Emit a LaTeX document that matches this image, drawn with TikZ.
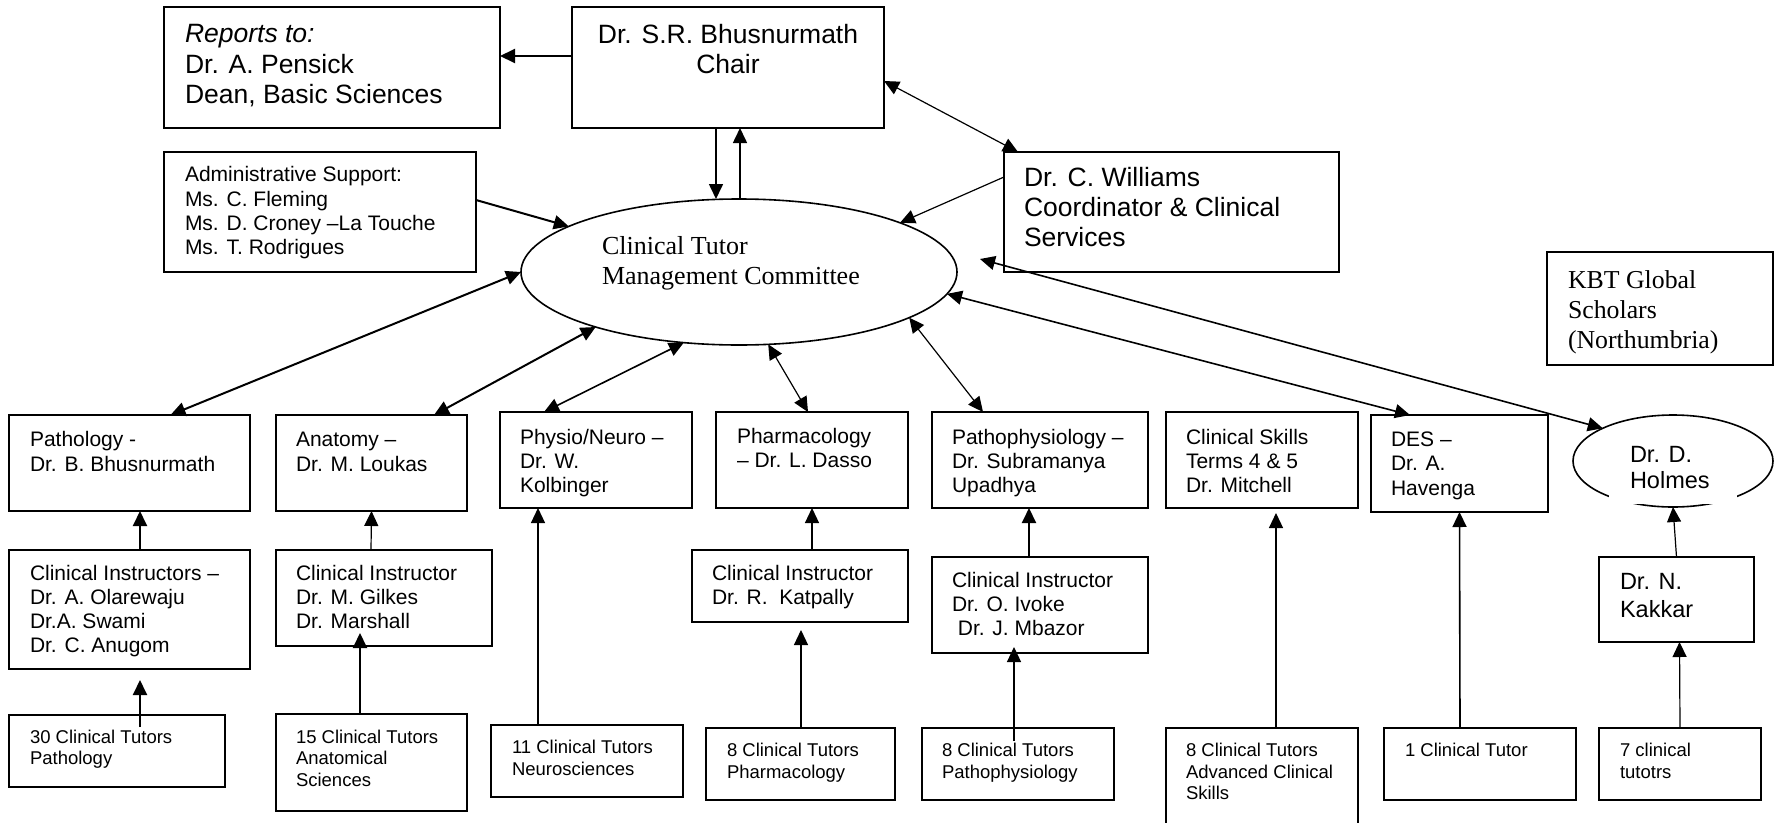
\documentclass[tikz,border=0pt]{standalone}
\usepackage{fontspec}
\setmainfont{Liberation Sans}
\newfontfamily\tnr{Liberation Serif}
\usetikzlibrary{shapes.geometric,arrows.meta}

\tikzset{
  box/.style={draw, line width=2pt, rectangle, anchor=north west, inner sep=0pt, outer sep=0pt},
  oval/.style={draw, line width=1.6pt, ellipse, inner sep=0pt, outer sep=0pt},
  corner/.style={anchor=base west, inner sep=0pt, outer sep=0pt, align=left, xshift=21pt},
  big/.style={font=\fontsize{26.5}{30.3}\selectfont},
  mid/.style={font=\fontsize{21}{24.3}\selectfont},
  sml/.style={font=\fontsize{18.5}{21.5}\selectfont},
  link/.style={line width=1.2pt, ->},
  both/.style={line width=1.2pt, <->},
  heavy/.style={line width=2pt},
}

\begin{document}
\begin{tikzpicture}[x=1pt, y=-1pt, >={Triangle[length=15pt,width=14pt]}]
\useasboundingbox (0,0) rectangle (1783,822);
\clip (0,0) rectangle (1783,822);

% top (label yshift = baseline of the last line)
\node[box, minimum width=336pt, minimum height=121pt, label={[corner, big, yshift=-96.3pt]north west:{\textit{Reports to:}\\Dr. A. Pensick\\Dean, Basic Sciences}}] (reports) at (164,7) {};
\node[box, minimum width=312pt, minimum height=121pt, label={[big, anchor=base, align=center, inner sep=0pt, yshift=-66.3pt]north:{Dr. S.R. Bhusnurmath\\Chair}}] (chair) at (572,7) {};
\node[box, minimum width=312pt, minimum height=120pt, label={[corner, mid, yshift=-102.6pt]north west:{Administrative Support:\\Ms. C. Fleming\\Ms. D. Croney –La Touche\\Ms. T. Rodrigues}}] (admin) at (164,152) {};
\node[box, minimum width=335pt, minimum height=120pt, label={[corner, big, xshift=-1pt, yshift=-94.6pt]north west:{Dr. C. Williams\\Coordinator \& Clinical\\Services}}] (williams) at (1004,152) {};
\node[oval, minimum width=436pt, minimum height=146pt, label={[corner, xshift=60pt, yshift=-12pt, font=\tnr\fontsize{26}{30}\selectfont]west:{Clinical Tutor\\Management Committee}}] (ctmc) at (739,272) {};
\node[box, minimum width=226pt, minimum height=113pt, label={[corner, yshift=-96pt, font=\tnr\fontsize{25.8}{30}\selectfont]north west:{KBT Global\\Scholars\\(Northumbria)}}] (kbt) at (1547,252) {};

% departments
\node[box, minimum width=241pt, minimum height=96pt, label={[corner, mid, yshift=-56pt]north west:{Pathology -\\Dr. B. Bhusnurmath}}] (path) at (9,415) {};
\node[box, minimum width=191pt, minimum height=96pt, label={[corner, mid, xshift=-1pt, yshift=-56pt]north west:{Anatomy –\\Dr. M. Loukas}}] (anat) at (276,415) {};
\node[box, minimum width=192pt, minimum height=96pt, label={[corner, mid, xshift=-1pt, yshift=-80.6pt]north west:{Physio/Neuro –\\Dr. W.\\Kolbinger}}] (physio) at (500,412) {};
\node[box, minimum width=192pt, minimum height=96pt, label={[corner, mid, yshift=-55.8pt]north west:{Pharmacology\\– Dr. L. Dasso}}] (pharm) at (716,412) {};
\node[box, minimum width=216pt, minimum height=96pt, label={[corner, mid, xshift=-1pt, yshift=-80.6pt]north west:{Pathophysiology –\\Dr. Subramanya\\Upadhya}}] (patho) at (932,412) {};
\node[box, minimum width=192pt, minimum height=96pt, label={[corner, mid, xshift=-1pt, yshift=-80.6pt]north west:{Clinical Skills\\Terms 4 \& 5\\Dr. Mitchell}}] (skills) at (1166,412) {};
\node[box, minimum width=177pt, minimum height=97pt, label={[corner, mid, xshift=-1pt, yshift=-80.1pt]north west:{DES –\\Dr. A.\\Havenga}}] (des) at (1371,415) {};
\node[oval, minimum width=200pt, minimum height=92pt, label={[corner, xshift=36pt, yshift=-27.5pt, font=\fontsize{23.5}{26.5}\selectfont]west:{Dr. D.\\Holmes}}] (holmes) at (1673,461) {};
\fill[white] (1609,492) rectangle (1737,504);

% instructors
\node[box, minimum width=241pt, minimum height=119pt, label={[corner, mid, yshift=-102.9pt]north west:{Clinical Instructors –\\Dr. A. Olarewaju\\Dr.A. Swami\\Dr. C. Anugom}}] (cipath) at (9,550) {};
\node[box, minimum width=216pt, minimum height=96pt, label={[corner, mid, xshift=-1pt, yshift=-78.6pt]north west:{Clinical Instructor\\Dr. M. Gilkes\\Dr. Marshall}}] (cianat) at (276,550) {};
\node[box, minimum width=216pt, minimum height=72pt, label={[corner, mid, xshift=-1pt, yshift=-54.3pt]north west:{Clinical Instructor\\Dr. R.\ \ Katpally}}] (cipharm) at (692,550) {};
\node[box, minimum width=216pt, minimum height=96pt, label={[corner, mid, xshift=-1pt, yshift=-78.6pt]north west:{Clinical Instructor\\Dr. O. Ivoke\\\ Dr. J. Mbazor}}] (cipatho) at (932,557) {};
\node[box, minimum width=155pt, minimum height=85pt, label={[corner, yshift=-60pt, font=\fontsize{23.5}{28}\selectfont]north west:{Dr. N.\\Kakkar}}] (kakkar) at (1599,557) {};

% tutors
\node[box, minimum width=216pt, minimum height=72pt, label={[corner, sml, yshift=-49.8pt]north west:{30 Clinical Tutors\\Pathology}}] (ctpath) at (9,715) {};
\node[box, minimum width=191pt, minimum height=97pt, label={[corner, sml, xshift=-1pt, yshift=-72.3pt]north west:{15 Clinical Tutors\\Anatomical\\Sciences}}] (ctanat) at (276,714) {};
\node[box, minimum width=192pt, minimum height=72pt, label={[corner, sml, yshift=-50pt]north west:{11 Clinical Tutors\\Neurosciences}}] (ctneuro) at (491,725) {};
\node[box, minimum width=189pt, minimum height=72pt, label={[corner, sml, yshift=-50pt]north west:{8 Clinical Tutors\\Pharmacology}}] (ctpharm) at (706,728) {};
\node[box, minimum width=192pt, minimum height=72pt, label={[corner, sml, xshift=-1pt, yshift=-50pt]north west:{8 Clinical Tutors\\Pathophysiology}}] (ctpatho) at (922,728) {};
\node[box, minimum width=192pt, minimum height=120pt, label={[corner, sml, xshift=-1pt, yshift=-71.5pt]north west:{8 Clinical Tutors\\Advanced Clinical\\Skills}}] (ctskills) at (1166,728) {};
\node[box, minimum width=192pt, minimum height=72pt, label={[corner, sml, yshift=-28.5pt]north west:{1 Clinical Tutor}}] (ctdes) at (1384,728) {};
\node[box, minimum width=162pt, minimum height=72pt, label={[corner, sml, yshift=-50pt]north west:{7 clinical\\tutotrs}}] (ctholmes) at (1599,728) {};

% chair and committee
\draw[link, heavy] ([yshift=11.5pt]chair.west) -- ([yshift=11.5pt]reports.east);
\draw[link, line width=1.6pt] ([xshift=-12pt]chair.south) -- ([xshift=-23pt]ctmc.north);
\draw[link, line width=1.6pt] ([xshift=1pt]ctmc.north) -- ([xshift=12pt]chair.south);
\draw[both] ([yshift=-13.5pt]chair.east) -- ([xshift=14pt]williams.north west);
\draw[link, heavy] ([yshift=12pt]admin.east) -- (ctmc.165);
\draw[link] ([yshift=-25pt]williams.north west) -- (ctmc.17);

% committee to departments
\draw[both, heavy] (ctmc.180) -- ([xshift=41pt]path.north);
\draw[both, heavy] (ctmc.201) -- ([xshift=62.5pt]anat.north);
\draw[both, line width=1.6pt] (ctmc.232) -- ([xshift=-52pt]physio.north);
\draw[both] (ctmc.292) -- ([xshift=-4pt]pharm.north);
\draw[both] (ctmc.345) -- ([xshift=-57pt]patho.north);
\draw[both, line width=1.6pt] (ctmc.354.5) -- ([xshift=-49.5pt]des.north);
\draw[both, line width=1.6pt] ([xshift=23pt,yshift=13pt]ctmc.east) -- (holmes.155);

% up the columns
\draw[link, heavy] ([xshift=10.5pt]cipath.north) -- ([xshift=10.5pt]path.south);
\draw[link, heavy] ([xshift=23pt,yshift=-12pt]ctpath.north) -- ([xshift=10.5pt,yshift=-11pt]cipath.south);
\draw[link] ([xshift=-13pt]cianat.north) -- (anat.south);
\draw[link, heavy] ([xshift=-11.5pt]ctanat.north) -- ([xshift=-24pt,yshift=13pt]cianat.south);
\draw[link] ([xshift=-49pt]ctneuro.north) -- ([xshift=-58pt]physio.south);
\draw[link] ([xshift=12pt]cipharm.north) -- (pharm.south);
\draw[link] ([xshift=0.5pt]ctpharm.north) -- ([xshift=1pt,yshift=-8pt]cipharm.south);
\draw[link, heavy] ([xshift=-11pt]cipatho.north) -- ([xshift=-11pt]patho.south);
\draw[link] ([xshift=-4pt,yshift=-13pt]ctpatho.north) -- ([xshift=-26pt,yshift=6pt]cipatho.south);
\draw[link] ([xshift=14pt]ctskills.north) -- ([xshift=14pt,yshift=-5pt]skills.south);
\draw[link, line width=1.6pt] ([xshift=-20pt]ctdes.north) -- (des.south);
\draw[link] (kakkar.north) -- (holmes.south);
\draw[link] (ctholmes.north) -- ([xshift=3pt]kakkar.south);
\end{tikzpicture}
\end{document}
